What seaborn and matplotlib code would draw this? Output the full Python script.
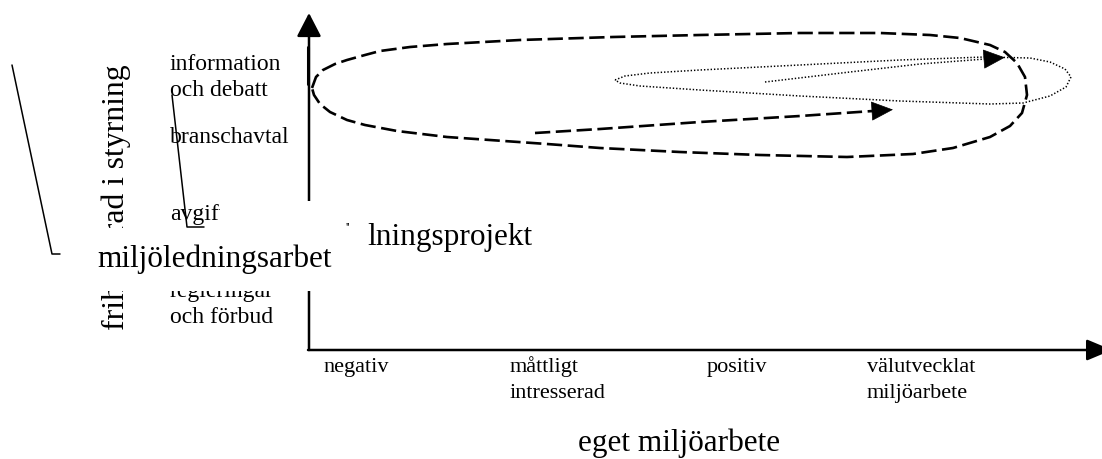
import matplotlib
matplotlib.use("Agg")
import matplotlib.pyplot as plt
import seaborn as sns
from matplotlib.patches import Rectangle

# all coordinates below (pixels, y down)
x_labels = ["negativ", "måttligt\nintresserad", "positiv", "välutvecklat\nmiljöarbete"]
x_label_pos = [323, 510, 707, 867]
y_labels = ["information\noch debatt", "branschavtal", "avgifter", "regleringar\noch förbud"]
y_label_base = [70, 143, 220, 297]

origin = (309, 350)
x_axis_end = 1112
y_axis_end = 13

# big dashed loop (closed)
loop_x = [312, 316, 323, 335, 347, 365, 380, 410, 447, 520, 613, 700, 800, 880, 930, 960, 990,
          1005, 1017, 1025, 1027, 1022, 1010, 990, 953, 913, 847, 760, 680, 600, 547, 447, 397,
          365, 347, 330, 320, 314, 312]
loop_y = [88, 77, 70, 64, 60, 55, 51, 47, 44, 40, 37, 35, 33, 33, 35, 38, 45,
          52, 63, 77, 95, 113, 126, 137, 148, 154, 157, 155, 152, 148, 144, 137, 131,
          125, 120, 112, 104, 95, 88]
# inner dashed arrow
dash_arrow_x = [535, 600, 700, 800, 873]
dash_arrow_y = [133, 129, 122, 116, 111]
# dotted loop
dot_x = [615, 625, 650, 700, 800, 900, 985, 1030, 1050, 1065, 1071, 1066, 1050, 1023, 990, 900,
         800, 700, 640, 620, 615]
dot_y = [80, 76, 73, 70, 65, 60, 57, 58, 62, 69, 77, 87, 96, 103, 104, 101,
         96, 90, 86, 83, 80]
# inner dotted arrow
dot_arrow_x = [765, 850, 920, 985]
dot_arrow_y = [82, 72, 64, 59]

sns.set_theme(style="white")
plt.rcParams["font.family"] = ["Liberation Serif", "DejaVu Serif"]
plt.rcParams["text.color"] = "black"
plt.rcParams["lines.scale_dashes"] = False

fig = plt.figure(figsize=(11.02, 4.59), dpi=100)
ax = fig.add_axes([0, 0, 1, 1])
ax.set_xlim(0, 1102)
ax.set_ylim(459, 0)
ax.axis("off")

# axes with arrow heads
ax.annotate("", xy=(origin[0], y_axis_end), xytext=origin, annotation_clip=False,
            arrowprops=dict(arrowstyle="-|>,head_length=1.45,head_width=0.75", mutation_scale=10,
                            color="black", lw=1.8, shrinkA=0, shrinkB=0))
ax.annotate("", xy=(x_axis_end, origin[1]), xytext=(origin[0] - 1, origin[1]), annotation_clip=False,
            arrowprops=dict(arrowstyle="-|>,head_length=1.55,head_width=0.65", mutation_scale=10,
                            color="black", lw=1.8, shrinkA=0, shrinkB=0))
ax.plot([origin[0] - 1.5, origin[0] - 1.5], [47, 84], color="black", lw=2.2)

# curves
dashed = (0, (11, 4))
dotted = (0, (1, 1.4))
sns.lineplot(x=loop_x, y=loop_y, sort=False, estimator=None, ax=ax, color="black",
             lw=1.9, linestyle=dashed)
sns.lineplot(x=dash_arrow_x, y=dash_arrow_y, sort=False, estimator=None, ax=ax, color="black",
             lw=1.9, linestyle=dashed)
sns.lineplot(x=dot_x, y=dot_y, sort=False, estimator=None, ax=ax, color="black",
             lw=1.1, linestyle=dotted)
sns.lineplot(x=dot_arrow_x, y=dot_arrow_y, sort=False, estimator=None, ax=ax, color="black",
             lw=1.1, linestyle=dotted)

for xs, ys in [(dash_arrow_x, dash_arrow_y), (dot_arrow_x, dot_arrow_y)]:
    dx, dy = xs[-1] - xs[-2], ys[-1] - ys[-2]
    n = (dx ** 2 + dy ** 2) ** 0.5
    tip = (xs[-1] + 20 * dx / n, ys[-1] + 20 * dy / n)
    ax.annotate("", xy=tip, xytext=(xs[-1], ys[-1]),
                arrowprops=dict(arrowstyle="-|>,head_length=1.45,head_width=0.65", mutation_scale=10,
                                color="black", lw=0.5, shrinkA=0, shrinkB=0))

# category labels
for lab, xp in zip(x_labels, x_label_pos):
    for i, line in enumerate(lab.split("\n")):
        ax.text(xp, 372 + 26 * i, line, fontsize=16, ha="left", va="baseline")
for lab, yp in zip(y_labels, y_label_base):
    for i, line in enumerate(lab.split("\n")):
        ax.text(170, yp + 26 * i, line, fontsize=17, ha="left", va="baseline")

ax.text(578, 451, "eget miljöarbete", fontsize=22.5, ha="left", va="baseline")
ax.text(124, 330, "frihetsgrad i styrning", fontsize=22.8, rotation=90, rotation_mode="anchor",
        ha="left", va="baseline")

# callout lines
ax.plot([12, 52, 60], [65, 254, 254], color="black", lw=1.1)
ax.plot([172, 187, 204], [95, 227, 227], color="black", lw=1.1)

# overlapping text boxes
ax.add_patch(Rectangle((220, 201), 340, 61, facecolor="white", edgecolor="none", zorder=3))
ax.text(345, 231, "''", fontsize=9, ha="left", va="baseline", zorder=4)
ax.text(367, 245, "lningsprojekt", fontsize=22.5, ha="left", va="baseline", zorder=4)
ax.add_patch(Rectangle((88, 228), 250, 63, facecolor="white", edgecolor="none", zorder=5))
ax.text(97, 267, "miljöledningsarbet", fontsize=22.5, ha="left", va="baseline", zorder=6)

fig.savefig("out.png", dpi=100)
